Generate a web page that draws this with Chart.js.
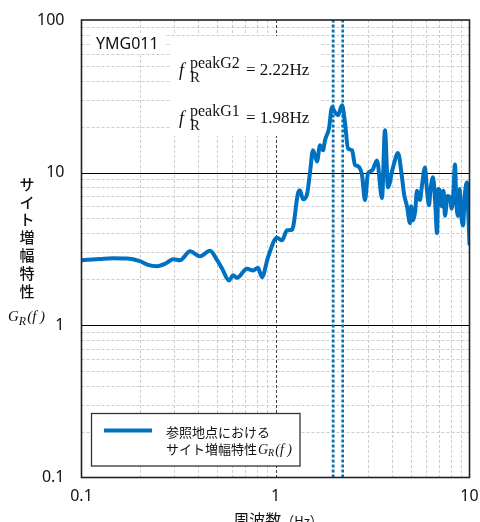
<!DOCTYPE html>
<html><head><meta charset="utf-8">
<script src="https://cdn.jsdelivr.net/npm/chart.js@4.4.1/dist/chart.umd.min.js"></script>
<style>html,body{margin:0;padding:0;background:#fff}#wrap{width:480px;height:522px;position:relative}</style>
</head><body><div id="wrap"><canvas id="c" width="480" height="522"></canvas></div>
<script>
// Frequency (Hz) and site amplification G_R(f)
const freqHz = [0.100,0.125,0.145,0.172,0.200,0.220,0.245,0.273,0.296,0.322,0.363,0.408,0.460,0.500,0.530,0.576,0.604,0.633,0.713,0.766,0.812,0.852,0.915,1.018,1.080,1.146,1.217,1.306,1.337,1.386,1.454,1.506,1.561,1.637,1.696,1.757,1.800,1.887,1.955,2.026,2.100,2.202,2.281,2.364,2.479,2.570,2.663,2.792,2.893,2.998,3.143,3.337,3.54,3.667,3.80,4.034,4.279,4.487,4.6,4.762,4.935,5.0,5.114,5.25,5.362,5.55,5.69,5.896,6.037,6.182,6.3,6.484,6.65,6.80,6.9,7.047,7.2,7.35,7.475,7.7,7.933,8.1,8.25,8.42,8.55,8.72,8.9,9.05,9.26,9.45,9.70,9.85,10.0];
const siteAmp = [2.66,2.71,2.74,2.73,2.62,2.48,2.43,2.54,2.70,2.66,3.04,2.82,3.07,2.66,2.35,1.96,2.12,2.04,2.34,2.28,2.37,2.06,2.78,3.73,3.59,4.18,4.21,7.30,7.64,6.67,7.20,10.0,14.0,11.8,15.1,14.0,16.3,19.5,26.8,24.8,23.7,27.6,21.3,14.4,14.0,11.2,11.0,9.6,6.6,9.9,10.3,12.0,6.8,18.9,8.0,10.8,13.4,9.3,7.2,6.0,4.65,6.0,4.86,5.6,7.6,6.6,8.25,10.8,7.6,6.1,7.8,9.3,6.5,4.0,7.8,7.5,6.0,7.6,5.2,7.0,6.8,5.8,7.2,11.3,6.5,5.2,7.8,5.4,4.5,7.0,8.6,5.5,3.4];
const peakFreqs = [1.98, 2.22];
const xTickVals = [0.1, 1, 10];
const xTickLabels = ['0.1', '1', '10'];
const yTickVals = [0.1, 1, 10, 100];
const yTickLabels = ['0.1', '1', '10', '100'];
const minorMult = [2,3,4,5,6,7,8,9];

const BLUE = '#0070C0';
const SANS = '"Noto Sans", "Noto Sans CJK JP", sans-serif';
const CJK = '"Noto Sans CJK JP", "Noto Sans", sans-serif';
const SERIF = '"Liberation Serif", "DejaVu Serif", serif';

const curve = freqHz.map((f, i) => ({x: f, y: siteAmp[i]}));
const peakSets = peakFreqs.map(f => ({
  data: [{x: f, y: 0.1}, {x: f, y: 100}],
  borderColor: BLUE, borderWidth: 2.6, borderDash: [3, 2], pointRadius: 0, fill: false
}));

function px(v){ return Math.round(v) + 0.5; }

const decor = {
  id: 'decor',
  beforeDatasetsDraw(chart) {
    const ctx = chart.ctx, a = chart.chartArea, xs = chart.scales.x, ys = chart.scales.y;
    ctx.save();
    // minor grid
    ctx.strokeStyle = '#cdcdcd'; ctx.lineWidth = 1; ctx.setLineDash([3, 2]);
    [0.1, 1].forEach(d => minorMult.forEach(k => {
      const X = px(xs.getPixelForValue(k * d));
      ctx.beginPath(); ctx.moveTo(X, a.top); ctx.lineTo(X, a.bottom); ctx.stroke();
    }));
    [0.1, 1, 10].forEach(d => minorMult.forEach(k => {
      const Y = px(ys.getPixelForValue(k * d));
      ctx.beginPath(); ctx.moveTo(a.left, Y); ctx.lineTo(a.right, Y); ctx.stroke();
    }));
    // major vertical at 1 (dashed dark)
    ctx.strokeStyle = '#444'; ctx.setLineDash([3, 2]);
    let X1 = px(xs.getPixelForValue(1));
    ctx.beginPath(); ctx.moveTo(X1, a.top); ctx.lineTo(X1, a.bottom); ctx.stroke();
    // major horizontal solid
    ctx.setLineDash([]); ctx.strokeStyle = '#000';
    [1, 10].forEach(v => {
      const Y = px(ys.getPixelForValue(v));
      ctx.beginPath(); ctx.moveTo(a.left, Y); ctx.lineTo(a.right, Y); ctx.stroke();
    });
    // white label backgrounds
    ctx.fillStyle = '#fff';
    ctx.fillRect(90, 34, 75, 19);
    ctx.fillRect(170, 36, 150, 100);
    // station label
    ctx.fillStyle = '#111';
    ctx.textBaseline = 'alphabetic'; ctx.textAlign = 'left';
    ctx.font = '16px ' + SANS;
    ctx.fillText('YMG011', 96, 48.5);
    // peak annotations
    const rows = [['peakG2', '= 2.22Hz', 0], ['peakG1', '= 1.98Hz', 48]];
    rows.forEach(([sup, val, dy]) => {
      ctx.font = 'italic 18px ' + SERIF; ctx.fillText('f', 179, 76 + dy);
      ctx.font = '16px ' + SERIF; ctx.fillText(sup, 190, 67.5 + dy);
      ctx.font = '15px ' + SERIF; ctx.fillText('R', 190, 82 + dy);
      ctx.font = '17px ' + SERIF; ctx.fillText(val, 246, 75 + dy);
    });
    ctx.restore();
  },
  afterDatasetsDraw(chart) {
    const ctx = chart.ctx, a = chart.chartArea;
    ctx.save();
    // frame
    ctx.strokeStyle = '#222'; ctx.lineWidth = 1.6; ctx.setLineDash([]);
    ctx.strokeRect(a.left, a.top, a.right - a.left, a.bottom - a.top);
    // legend box
    ctx.fillStyle = '#fff';
    ctx.fillRect(91.5, 413.5, 208.5, 52.5);
    ctx.strokeStyle = '#333'; ctx.lineWidth = 1.3;
    ctx.strokeRect(91.5, 413.5, 208.5, 52.5);
    ctx.strokeStyle = BLUE; ctx.lineWidth = 4;
    ctx.beginPath(); ctx.moveTo(104, 430.5); ctx.lineTo(152, 430.5); ctx.stroke();
    ctx.fillStyle = '#111'; ctx.textAlign = 'left'; ctx.textBaseline = 'alphabetic';
    ctx.font = '13px ' + CJK;
    ctx.fillText('参照地点における', 166, 437);
    ctx.fillText('サイト増幅特性', 166, 453.5);
    let w = ctx.measureText('サイト増幅特性').width;
    let gx = 166 + w + 1;
    ctx.font = 'italic 14px ' + SERIF; ctx.fillText('G', gx, 453.5);
    gx += ctx.measureText('G').width;
    ctx.font = 'italic 10px ' + SERIF; ctx.fillText('R', gx, 456);
    gx += ctx.measureText('R').width + 1;
    ctx.font = 'italic 14px ' + SERIF; ctx.fillText('(f )', gx, 453.5);
    // y-axis title (vertical)
    ctx.font = '500 15px ' + CJK; ctx.textAlign = 'center'; ctx.textBaseline = 'middle';
    'サイト増幅特性'.split('').forEach((ch, i) => ctx.fillText(ch, 27, 184 + i * 17.8));
    ctx.textAlign = 'left'; ctx.textBaseline = 'alphabetic';
    ctx.font = 'italic 15px ' + SERIF; ctx.fillText('G', 8, 321);
    let yx = 8 + ctx.measureText('G').width;
    ctx.font = 'italic 12px ' + SERIF; ctx.fillText('R', yx, 324.5);
    yx += ctx.measureText('R').width + 1;
    ctx.font = 'italic 15px ' + SERIF; ctx.fillText('(f )', yx, 321);
    // x-axis title
    ctx.font = '16px ' + CJK;
    const t1 = '周波数', t2 = '（Hz）';
    const w1 = ctx.measureText(t1).width;
    ctx.font = '13px ' + CJK;
    const w2 = ctx.measureText(t2).width;
    const sx = 278 - (w1 + w2) / 2;
    ctx.font = '16px ' + CJK; ctx.fillText(t1, sx, 526);
    ctx.font = '13px ' + CJK; ctx.fillText(t2, sx + w1, 526);
    ctx.restore();
  }
};

new Chart(document.getElementById('c'), {
  type: 'line',
  data: {
    datasets: [
      ...peakSets,
      { data: curve, borderColor: BLUE, borderWidth: 4, pointRadius: 0, fill: false,
        cubicInterpolationMode: 'monotone', borderJoinStyle: 'round', borderCapStyle: 'round' }
    ]
  },
  options: {
    responsive: false, animation: false, devicePixelRatio: 1,
    layout: { padding: { top: 20, right: 10.5, left: 0, bottom: 0 } },
    plugins: { legend: { display: false }, tooltip: { enabled: false } },
    scales: {
      x: {
        type: 'logarithmic', min: 0.1, max: 10,
        afterBuildTicks: s => { s.ticks = xTickVals.map(v => ({ value: v })); },
        afterFit: s => { s.height = 44.5; s.paddingLeft = 0; s.paddingRight = 0; },
        grid: { display: false, drawTicks: false }, border: { display: false },
        ticks: { autoSkip: false, maxRotation: 0, padding: 9, color: '#111',
          font: { family: SANS, size: 16 },
          callback: v => xTickLabels[xTickVals.indexOf(v)] }
      },
      y: {
        type: 'logarithmic', min: 0.1, max: 100,
        afterBuildTicks: s => { s.ticks = yTickVals.map(v => ({ value: v })); },
        afterFit: s => { s.width = 81.5; s.paddingTop = 0; s.paddingBottom = 0; },
        grid: { display: false, drawTicks: false }, border: { display: false },
        ticks: { autoSkip: false, padding: 17, color: '#111',
          font: { family: SANS, size: 16 },
          callback: v => yTickLabels[yTickVals.indexOf(v)] }
      }
    }
  },
  plugins: [decor]
});
</script>
</body></html>
